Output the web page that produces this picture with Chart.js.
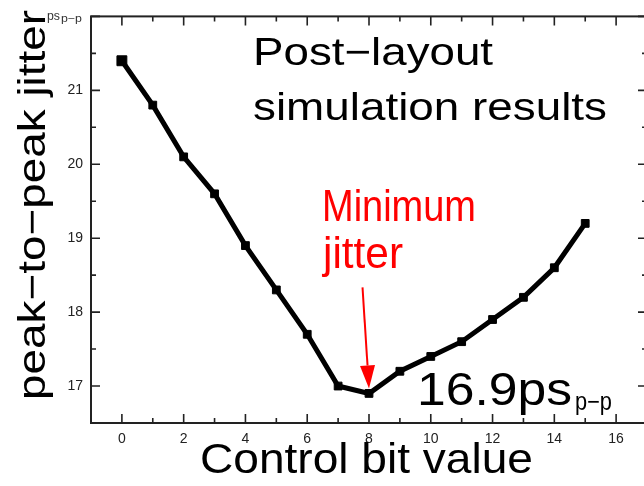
<!DOCTYPE html>
<html>
<head>
<meta charset="utf-8">
<script src="https://cdn.jsdelivr.net/npm/chart.js@4/dist/chart.umd.min.js"></script>
<style>
  html, body { margin: 0; padding: 0; background: #fff; overflow: hidden; }
  #wrap { width: 660px; height: 486px; position: relative; }
</style>
</head>
<body>
<div id="wrap"><canvas id="c"></canvas></div>
<script>
// ---- data ----
const controlBits = [0, 1, 2, 3, 4, 5, 6, 7, 8, 9, 10, 11, 12, 13, 14, 15];
const jitterPs = [21.4, 20.8, 20.1, 19.6, 18.9, 18.3, 17.7, 17.0, 16.9, 17.2, 17.4, 17.6, 17.9, 18.2, 18.6, 19.2];
const xTickValues = [0, 2, 4, 6, 8, 10, 12, 14, 16];
const yTickValues = [17, 18, 19, 20, 21];
const minimumPoint = { x: 8, y: 16.9 };

const FONT = '"Liberation Sans", Arial, Helvetica, sans-serif';
const AXIS_COLOR = '#222';

function fitText(ctx, text, x, y, size, width, color) {
  ctx.save();
  ctx.font = size + 'px ' + FONT;
  ctx.fillStyle = color;
  ctx.textAlign = 'left';
  ctx.textBaseline = 'alphabetic';
  const w = ctx.measureText(text).width;
  ctx.translate(x, y);
  ctx.scale(width / w, 1);
  ctx.fillText(text, 0, 0);
  ctx.restore();
}

const framePlugin = {
  id: 'frameAndNotes',
  afterDraw(chart) {
    const ctx = chart.ctx;
    const a = chart.chartArea;
    const xs = chart.scales.x, ys = chart.scales.y;
    ctx.save();
    // frame
    ctx.strokeStyle = AXIS_COLOR;
    ctx.lineWidth = 2;
    ctx.strokeRect(a.left, a.top, a.right - a.left, a.bottom - a.top);
    // x ticks (bottom and top), inward
    ctx.lineWidth = 1.6;
    ctx.beginPath();
    for (let v = Math.ceil(xs.min); v <= xs.max; v++) {
      const px = xs.getPixelForValue(v);
      const len = (v % 2 === 0) ? 9 : 5;
      ctx.moveTo(px, a.bottom); ctx.lineTo(px, a.bottom - len);
      ctx.moveTo(px, a.top); ctx.lineTo(px, a.top + len);
    }
    // y ticks (left and right), inward
    for (let v = ys.min; v <= ys.max + 1e-9; v += 0.5) {
      const py = ys.getPixelForValue(v);
      const len = (Math.abs(v - Math.round(v)) < 1e-6) ? 9 : 5;
      ctx.moveTo(a.left, py); ctx.lineTo(a.left + len, py);
      ctx.moveTo(a.right, py); ctx.lineTo(a.right - len, py);
    }
    ctx.stroke();

    // axis titles
    fitText(ctx, 'Control bit value', 200, 473, 42, 333, '#000');
    ctx.save();
    ctx.translate(45, 400);
    ctx.rotate(-Math.PI / 2);
    fitText(ctx, 'peak\u2212to\u2212peak jitter', 0, 0, 39, 390, '#000');
    ctx.restore();
    fitText(ctx, 'ps', 47, 20, 13, 13, '#333');
    fitText(ctx, 'p\u2212p', 61, 22, 10, 21, '#333');

    // annotations
    fitText(ctx, 'Post\u2212layout', 253, 65, 39, 240, '#000');
    fitText(ctx, 'simulation results', 253, 120, 39, 354, '#000');
    fitText(ctx, 'Minimum', 322, 221, 44, 154, '#ff0000');
    fitText(ctx, 'jitter', 323, 268, 44, 80, '#ff0000');
    fitText(ctx, '16.9ps', 417, 405, 46, 155, '#000');
    fitText(ctx, 'p\u2212p', 575, 410, 25, 37, '#000');

    // red arrow to minimum point
    const tipX = xs.getPixelForValue(minimumPoint.x);
    const tipY = ys.getPixelForValue(minimumPoint.y) - 5;
    const tailX = tipX - 6.5, tailY = tipY - 101;
    const ang = Math.atan2(tipY - tailY, tipX - tailX);
    const headLen = 23, headHalf = 7.5;
    const bx = tipX - headLen * Math.cos(ang), by = tipY - headLen * Math.sin(ang);
    ctx.strokeStyle = '#ff0000';
    ctx.fillStyle = '#ff0000';
    ctx.lineWidth = 2;
    ctx.beginPath();
    ctx.moveTo(tailX, tailY); ctx.lineTo(bx, by);
    ctx.stroke();
    ctx.beginPath();
    ctx.moveTo(tipX, tipY);
    ctx.lineTo(bx + headHalf * Math.sin(ang), by - headHalf * Math.cos(ang));
    ctx.lineTo(bx - headHalf * Math.sin(ang), by + headHalf * Math.cos(ang));
    ctx.closePath();
    ctx.fill();
    ctx.restore();
  }
};

const points = controlBits.map((b, i) => ({ x: b, y: jitterPs[i] }));

new Chart(document.getElementById('c'), {
  type: 'line',
  data: {
    datasets: [{
      data: points,
      borderColor: '#000',
      backgroundColor: '#000',
      borderWidth: 5,
      pointStyle: 'rect',
      pointRadius: controlBits.map((b, i) => i === 0 ? 7 : 5.5),
      pointBorderWidth: 1,
      tension: 0,
      fill: false
    }]
  },
  options: {
    responsive: true,
    maintainAspectRatio: false,
    animation: false,
    events: [],
    layout: { padding: { top: 13, right: 13, left: 0, bottom: 0 } },
    plugins: { legend: { display: false }, tooltip: { enabled: false }, title: { display: false } },
    scales: {
      x: {
        type: 'linear',
        min: -1, max: 17,
        afterBuildTicks: s => { s.ticks = xTickValues.map(v => ({ value: v })); },
        afterFit: s => { s.height = 63; },
        grid: { display: false, drawTicks: false },
        border: { display: false },
        ticks: { font: { family: FONT, size: 14 }, color: '#222', padding: 8, maxRotation: 0, autoSkip: false }
      },
      y: {
        type: 'linear',
        min: 16.5, max: 22,
        afterBuildTicks: s => { s.ticks = yTickValues.map(v => ({ value: v })); },
        afterFit: s => { s.width = 91; },
        grid: { display: false, drawTicks: false },
        border: { display: false },
        ticks: { font: { family: FONT, size: 14 }, color: '#222', padding: 8, autoSkip: false }
      }
    }
  },
  plugins: [framePlugin]
});
</script>
</body>
</html>
